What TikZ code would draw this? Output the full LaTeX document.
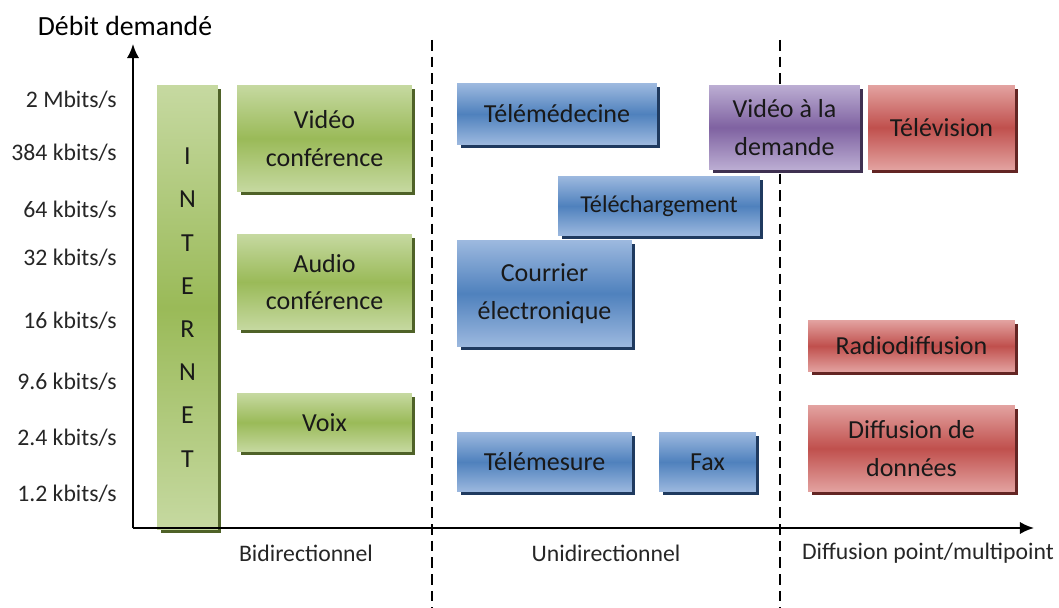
\documentclass[tikz,border=0pt]{standalone}
\usepackage{fontspec}
\setmainfont{Carlito}
\usetikzlibrary{positioning}
\usetikzlibrary{arrows.meta}
\usetikzlibrary{shadows}

\definecolor{glight}{HTML}{C6D9A1}
\definecolor{gdark}{HTML}{9ABA58}
\definecolor{gshade}{HTML}{4F6228}
\definecolor{blight}{HTML}{9DB9DF}
\definecolor{bdark}{HTML}{4F81BD}
\definecolor{bshade}{HTML}{1F3A5F}
\definecolor{rlight}{HTML}{E3A3A1}
\definecolor{rdark}{HTML}{C0504D}
\definecolor{rshade}{HTML}{632523}
\definecolor{plight}{HTML}{BCAED3}
\definecolor{pdark}{HTML}{7F62A1}
\definecolor{pshade}{HTML}{3F3151}

\newcommand{\boxfont}{\fontsize{14.8}{21.5}\selectfont}
\newcommand{\axisfont}{\fontsize{13.5}{16}\selectfont}

\tikzset{
  appbox/.style={inner sep=0pt, align=center, font=\boxfont, text=black!90},
  gbox/.style={appbox, top color=glight, bottom color=glight, middle color=gdark,
    general shadow={fill=gshade, shadow xshift=0.07cm, shadow yshift=-0.07cm}},
  bbox/.style={appbox, top color=blight, bottom color=blight, middle color=bdark,
    general shadow={fill=bshade, shadow xshift=0.07cm, shadow yshift=-0.07cm}},
  rbox/.style={appbox, top color=rlight, bottom color=rlight, middle color=rdark,
    general shadow={fill=rshade, shadow xshift=0.07cm, shadow yshift=-0.07cm}},
  pbox/.style={appbox, top color=plight, bottom color=plight, middle color=pdark,
    general shadow={fill=pshade, shadow xshift=0.07cm, shadow yshift=-0.07cm}},
  ratelabel/.style={anchor=east, font=\axisfont, inner sep=0pt, text=black!85},
  classlabel/.style={font=\axisfont, inner sep=0pt, text=black!85},
  separator/.style={dashed, dash pattern=on 6pt off 3.5pt, line width=0.8pt}
}

\begin{document}
\begin{tikzpicture}[x=0.02cm, y=-0.02cm]
\useasboundingbox (0,0) rectangle (1059,608);

\coordinate (origin) at (133,528);
\coordinate (ytip) at (133,44);
\coordinate (xtip) at (1034,528);
\coordinate (sepAtop) at (432,40);
\coordinate (sepAbot) at (432,608);
\coordinate (sepBtop) at (780,40);
\coordinate (sepBbot) at (780,608);

\draw[separator] (sepAtop) -- (sepAbot);
\draw[separator] (sepBtop) -- (sepBbot);

\node[font=\fontsize{15.8}{18}\selectfont, inner sep=0pt] (debit) at (125,26) {Débit demandé};

\node[ratelabel] (r2M) at (117,100) {2 Mbits/s};
\node[ratelabel] (r384) at (117,153) {384 kbits/s};
\node[ratelabel] (r64) at (117,210) {64 kbits/s};
\node[ratelabel] (r32) at (117,258) {32 kbits/s};
\node[ratelabel] (r16) at (117,321) {16 kbits/s};
\node[ratelabel] (r96) at (117,382) {9.6 kbits/s};
\node[ratelabel] (r24) at (117,438) {2.4 kbits/s};
\node[ratelabel] (r12) at (117,494) {1.2 kbits/s};

\node[gbox, minimum width=1.22cm, minimum height=8.9cm, font=\fontsize{14.8}{24.6}\selectfont] (internet) at (187.5,307.5) {I\\N\\T\\E\\R\\N\\E\\T};

\node[gbox, minimum width=3.5cm, minimum height=2.14cm] (video) at (324.5,138.5) {Vidéo\\conférence};
\node[gbox, minimum width=3.5cm, minimum height=1.92cm] (audio) at (324.5,282) {Audio\\conférence};
\node[gbox, minimum width=3.5cm, minimum height=1.18cm] (voix) at (324.5,422.5) {Voix};

\node[bbox, minimum width=4.0cm, minimum height=1.22cm] (telemed) at (557,114) {Télémédecine};
\node[bbox, minimum width=4.04cm, minimum height=1.2cm, font=\fontsize{13.8}{16}\selectfont] (telechar) at (659,206) {Téléchargement};
\node[bbox, minimum width=3.5cm, minimum height=2.14cm] (courrier) at (544.5,293.5) {Courrier\\électronique};
\node[bbox, minimum width=3.5cm, minimum height=1.2cm] (telemes) at (544.5,462) {Télémesure};
\node[bbox, minimum width=1.94cm, minimum height=1.2cm] (fax) at (707.5,462) {Fax};

\node[pbox, minimum width=3.02cm, minimum height=1.7cm] (vod) at (784.5,127.5) {Vidéo à la\\demande};
\node[rbox, minimum width=2.94cm, minimum height=1.7cm] (tele) at (941.5,127.5) {Télévision};
\node[rbox, minimum width=4.14cm, minimum height=1.04cm] (radio) at (911.5,346) {Radiodiffusion};
\node[rbox, minimum width=4.14cm, minimum height=1.74cm] (donnees) at (911.5,448.5) {Diffusion de\\données};

\draw[line width=1.2pt, -{Latex[length=8pt, width=7pt]}] (origin) -- (ytip);
\draw[line width=1.2pt, -{Latex[length=8pt, width=7pt]}] (origin) -- (xtip);

\node[classlabel] (bidir) at (306,553) {Bidirectionnel};
\node[classlabel] (unidir) at (606,553) {Unidirectionnel};
\node[classlabel] (diffus) at (928,553) {Diffusion point/multipoint};
\end{tikzpicture}
\end{document}
